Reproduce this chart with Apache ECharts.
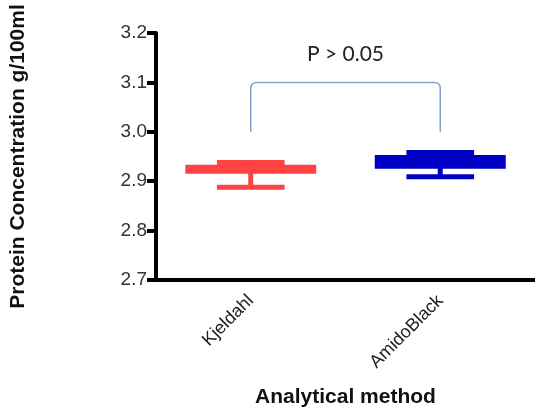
<!DOCTYPE html>
<html>
<head>
<meta charset="utf-8">
<script src="https://cdn.jsdelivr.net/npm/echarts@6/dist/echarts.min.js"></script>
<style>
html,body{margin:0;padding:0;background:#fff;}
#chart{width:535px;height:413px;}
</style>
</head>
<body>
<div id="chart"></div>
<script>
// ---- data ----
const categories = ['Kjeldahl', 'AmidoBlack'];
const mins    = [2.888, 2.909];
const q1s     = [2.919, 2.929];
const medians = [2.925, 2.940];
const q3s     = [2.929, 2.949];
const maxs    = [2.938, 2.958];
const yTicks  = [2.7, 2.8, 2.9, 3.0, 3.1, 3.2];
const bracketFrom = 0;
const bracketTo = 1;
const bracketLow = 3.0;
const bracketHigh = 3.1;
const pLabel = 'P > 0.05';

// ---- styles ----
const boxColors = ['#ff4242', '#0000c4'];

const boxData = categories.map((c, i) => [i, mins[i], q1s[i], medians[i], q3s[i], maxs[i]]);

const chart = echarts.init(document.getElementById('chart'), null, {renderer: 'canvas'});

function renderBox(params, api) {
  const x = api.value(0);
  const band = api.size([1, 0])[0];
  const color = boxColors[params.dataIndex];
  const pMin = api.coord([x, api.value(1)]);
  const pQ1 = api.coord([x, api.value(2)]);
  const pMed = api.coord([x, api.value(3)]);
  const pQ3 = api.coord([x, api.value(4)]);
  const pMax = api.coord([x, api.value(5)]);
  const cx = pMin[0];
  const bw = band * 0.67;
  const cw = band * 0.357;
  return {
    type: 'group',
    children: [
      {type: 'line', shape: {x1: cx, y1: pMin[1], x2: cx, y2: pMax[1]}, style: {stroke: color, lineWidth: 5}},
      {type: 'line', shape: {x1: cx - cw / 2, y1: pMin[1], x2: cx + cw / 2, y2: pMin[1]}, style: {stroke: color, lineWidth: 5}},
      {type: 'line', shape: {x1: cx - cw / 2, y1: pMax[1], x2: cx + cw / 2, y2: pMax[1]}, style: {stroke: color, lineWidth: 5}},
      {type: 'rect', shape: {x: cx - bw / 2, y: pQ3[1], width: bw, height: pQ1[1] - pQ3[1]}, style: {fill: color, stroke: color, lineWidth: 4}},
      {type: 'line', shape: {x1: cx - bw / 2, y1: pMed[1], x2: cx + bw / 2, y2: pMed[1]}, style: {stroke: color, lineWidth: 4}}
    ]
  };
}

function renderBracket(params, api) {
  const a = api.coord([api.value(0), api.value(2)]);
  const b = api.coord([api.value(0), api.value(3)]);
  const c = api.coord([api.value(1), api.value(3)]);
  const d = api.coord([api.value(1), api.value(2)]);
  const r = 6;
  const path = 'M' + a[0] + ',' + a[1] +
    ' L' + b[0] + ',' + (b[1] + r) +
    ' Q' + b[0] + ',' + b[1] + ' ' + (b[0] + r) + ',' + b[1] +
    ' L' + (c[0] - r) + ',' + c[1] +
    ' Q' + c[0] + ',' + c[1] + ' ' + c[0] + ',' + (c[1] + r) +
    ' L' + d[0] + ',' + d[1];
  return {
    type: 'group',
    children: [
      {type: 'path', shape: {pathData: path}, style: {fill: 'none', stroke: '#86a2cc', lineWidth: 1.5}},
      {type: 'text', x: (b[0] + c[0]) / 2, y: b[1] - 28,
       style: {text: pLabel, fill: '#222', font: '21px Lato', align: 'center', verticalAlign: 'middle'}}
    ]
  };
}

const option = {
  animation: false,
  backgroundColor: '#fff',
  grid: {left: 152, right: 0, top: 33, bottom: 132, containLabel: false},
  xAxis: {
    type: 'category',
    data: categories,
    boundaryGap: true,
    name: 'Analytical method',
    nameLocation: 'middle',
    nameGap: 107,
    nameTextStyle: {fontFamily: 'Liberation Sans', fontWeight: 'bold', fontSize: 21, color: '#111'},
    axisLine: {lineStyle: {color: '#000', width: 4}},
    axisTick: {alignWithLabel: true, length: 8, lineStyle: {color: '#000', width: 4}},
    axisLabel: {rotate: 45, margin: 18, fontFamily: 'Liberation Sans', fontSize: 18, color: '#222'},
    splitLine: {show: false}
  },
  yAxis: {
    type: 'value',
    min: yTicks[0],
    max: yTicks[yTicks.length - 1],
    interval: 0.1,
    name: 'Protein Concentration g/100ml',
    nameLocation: 'middle',
    nameRotate: 90,
    nameGap: 127,
    nameTextStyle: {fontFamily: 'Liberation Sans', fontWeight: 'bold', fontSize: 21, color: '#111'},
    axisLine: {show: true, lineStyle: {color: '#000', width: 4}},
    axisTick: {show: true, length: 9, lineStyle: {color: '#000', width: 4}},
    axisLabel: {margin: 9, fontFamily: 'Liberation Sans', fontSize: 19, color: '#333',
      formatter: v => v.toFixed(1)},
    splitLine: {show: false}
  },
  series: [
    {
      type: 'custom',
      name: 'bracket',
      data: [[bracketFrom, bracketTo, bracketLow, bracketHigh]],
      encode: {x: [0, 1], y: [2, 3]},
      renderItem: renderBracket,
      silent: true,
      z: 1
    },
    {
      type: 'custom',
      name: 'box',
      data: boxData,
      encode: {x: 0, y: [1, 2, 3, 4, 5]},
      renderItem: renderBox,
      z: 2
    }
  ]
};
chart.setOption(option);
</script>
</body>
</html>
